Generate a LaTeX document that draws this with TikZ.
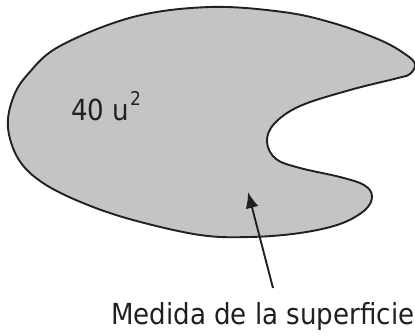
\documentclass[tikz,border=0pt]{standalone}
\usepackage{fontspec}
\setmainfont{DejaVu Sans Condensed}
\usepackage{tikz}
\usetikzlibrary{arrows.meta}

\definecolor{areagray}{RGB}{196,196,194}
\definecolor{inkblack}{RGB}{35,31,32}

\begin{document}
\begin{tikzpicture}[
  x=1pt, y=-1pt,
  outline/.style={draw=inkblack, line width=1.9pt, fill=areagray},
  pointer/.style={draw=inkblack, line width=1.9pt, -{Latex[length=16pt,width=13pt]}},
  every node/.style={inner sep=0pt, text=inkblack, font=\fontsize{29}{31}\selectfont}
]
\useasboundingbox (0,0) rectangle (415,335);
\draw[outline] plot[smooth cycle, tension=0.6] coordinates {
  (210,7) (283,12) (333,23) (380,40) (405,54) (415,64) (410,74) (398,78)
  (350,90) (300,106) (274,124) (267,142) (276,159) (300,168)
  (340,177) (364,185) (372,196) (365,210) (340,224) (300,233)
  (250,237) (200,235) (133,220) (83,203) (43,183) (19,160)
  (8,128) (13,98) (28,74) (60,46) (133,17)};
\node[anchor=base west] (area) at (71,120)
  {40 u\kern1pt\raisebox{15pt}{\fontsize{19}{19}\selectfont 2}};
\node[anchor=base west] (medida) at (111,324) {Medida de la superficie};
\coordinate (tip) at (248,192);
\coordinate (tail) at (273,288);
\draw[pointer] (tail) -- (tip);
\end{tikzpicture}
\end{document}
